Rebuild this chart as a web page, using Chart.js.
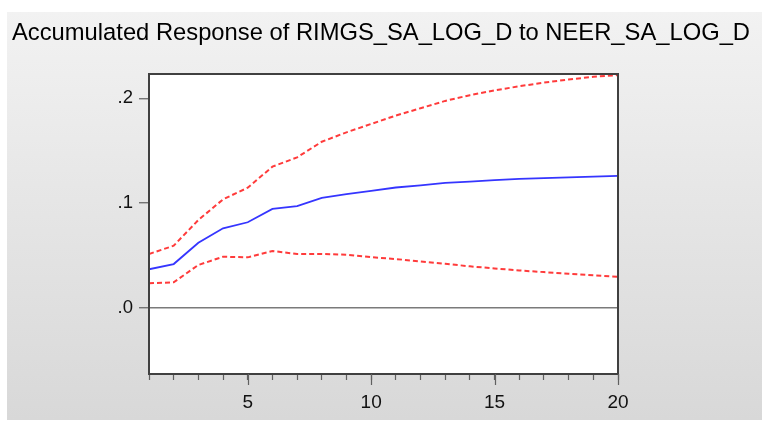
<!DOCTYPE html>
<html>
<head>
<meta charset="utf-8">
<script src="https://cdn.jsdelivr.net/npm/chart.js@4.4.1/dist/chart.umd.min.js"></script>
<style>
    html, body { margin: 0; padding: 0; background: #ffffff; }
    canvas { display: block; }
</style>
</head>
<body>
<canvas id="irf" width="762" height="421"></canvas>
<script>
// Accumulated impulse response (EViews style) with +/- 2 S.E. bands
const chartTitle = 'Accumulated Response of RIMGS_SA_LOG_D to NEER_SA_LOG_D';
const periods = [1, 2, 3, 4, 5, 6, 7, 8, 9, 10, 11, 12, 13, 14, 15, 16, 17, 18, 19, 20];
const response = [0.0367, 0.0417, 0.062, 0.0758, 0.0816, 0.0943, 0.0971, 0.1048, 0.1085, 0.1115,
    0.1148, 0.1168, 0.1192, 0.1205, 0.1218, 0.1230, 0.1238, 0.1245, 0.1252, 0.126];
const upperBand = [0.0513, 0.0592, 0.0838, 0.1035, 0.1146, 0.1347, 0.1436, 0.1585, 0.1675, 0.1755,
    0.1835, 0.1905, 0.1975, 0.2030, 0.2075, 0.2115, 0.2150, 0.2180, 0.2205, 0.2222];
const lowerBand = [0.0233, 0.0243, 0.0408, 0.0487, 0.0481, 0.0542, 0.0513, 0.0513, 0.0506, 0.0483,
    0.0465, 0.0442, 0.0420, 0.0395, 0.0375, 0.0356, 0.0340, 0.0325, 0.0310, 0.0296];
const yTickValues = [0, 0.1, 0.2];
const xLabelValues = [5, 10, 15, 20];

function toPoints(values) {
    return values.map((v, i) => ({ x: periods[i], y: v }));
}

function formatYTick(value) {
    return value.toFixed(1).replace(/^0/, '');
}

// gray gradient panel, white plot area and title
const framePlugin = {
    id: 'frame',
    beforeDraw(chart) {
        const ctx = chart.ctx;
        const area = chart.chartArea;
        ctx.save();
        const grad = ctx.createLinearGradient(0, 12, 0, 420);
        grad.addColorStop(0, '#f2f2f2');
        grad.addColorStop(1, '#d8d8d8');
        ctx.fillStyle = grad;
        ctx.fillRect(7, 12, chart.width - 7, 408);
        ctx.fillStyle = '#ffffff';
        ctx.fillRect(area.left, area.top, area.right - area.left, area.bottom - area.top);

        // title, squeezed to the narrow look of the original
        ctx.font = '24.5px "Liberation Sans Narrow", "Liberation Sans", Arial, sans-serif';
        ctx.fillStyle = '#000000';
        ctx.textBaseline = 'alphabetic';
        const w = ctx.measureText(chartTitle).width;
        const targetW = 738;
        ctx.translate(12, 40);
        ctx.scale(targetW / w, 1);
        ctx.fillText(chartTitle, 0, 0);
        ctx.restore();
    },
    afterDraw(chart) {
        const ctx = chart.ctx;
        const area = chart.chartArea;
        const xScale = chart.scales.x;
        ctx.save();
        ctx.strokeStyle = '#404040';
        ctx.lineWidth = 2;
        ctx.strokeRect(area.left, area.top, area.right - area.left, area.bottom - area.top);
        // longer marks under the labelled periods
        ctx.strokeStyle = '#606060';
        ctx.lineWidth = 1.2;
        xLabelValues.forEach((v) => {
            const px = Math.round(xScale.getPixelForValue(v)) + 0.5;
            ctx.beginPath();
            ctx.moveTo(px, area.bottom);
            ctx.lineTo(px, area.bottom + 11);
            ctx.stroke();
        });
        ctx.restore();
    }
};

const ctx = document.getElementById('irf');
new Chart(ctx, {
    type: 'line',
    data: {
        datasets: [
            {
                label: 'Upper',
                data: toPoints(upperBand),
                borderColor: '#ff3b3b',
                borderWidth: 2,
                borderDash: [5, 3],
                pointRadius: 0,
                tension: 0
            },
            {
                label: 'Response',
                data: toPoints(response),
                borderColor: '#3535ff',
                borderWidth: 1.8,
                pointRadius: 0,
                tension: 0
            },
            {
                label: 'Lower',
                data: toPoints(lowerBand),
                borderColor: '#ff3b3b',
                borderWidth: 2,
                borderDash: [5, 3],
                pointRadius: 0,
                tension: 0
            }
        ]
    },
    options: {
        responsive: false,
        devicePixelRatio: 1,
        animation: false,
        layout: {
            padding: { left: 0, top: 74, right: 144, bottom: 0 }
        },
        scales: {
            x: {
                type: 'linear',
                min: 1,
                max: 20,
                border: { display: false },
                afterFit(scale) { scale.height = 47; },
                afterBuildTicks(scale) {
                    scale.ticks = periods.map((v) => ({ value: v }));
                },
                grid: {
                    drawOnChartArea: false,
                    drawTicks: true,
                    tickLength: 6,
                    tickColor: '#606060',
                    tickWidth: 1.2
                },
                ticks: {
                    autoSkip: false,
                    maxRotation: 0,
                    padding: 11,
                    color: '#111111',
                    font: { family: '"Liberation Sans", Arial, sans-serif', size: 19 },
                    callback: (value) => (xLabelValues.includes(value) ? String(value) : '')
                }
            },
            y: {
                type: 'linear',
                min: -0.0633,
                max: 0.2232,
                border: { display: false },
                afterFit(scale) { scale.width = 149; },
                afterBuildTicks(scale) {
                    scale.ticks = yTickValues.map((v) => ({ value: v }));
                },
                grid: {
                    drawTicks: true,
                    tickLength: 10,
                    tickColor: '#606060',
                    tickWidth: 1.2,
                    lineWidth: 1.5,
                    color: (c) => (c.tick && c.tick.value === 0 ? '#7a7a7a' : 'rgba(0,0,0,0)')
                },
                ticks: {
                    padding: 6,
                    color: '#111111',
                    font: { family: '"Liberation Sans", Arial, sans-serif', size: 18.5 },
                    callback: (value) => formatYTick(value)
                }
            }
        },
        plugins: {
            legend: { display: false },
            title: { display: false },
            tooltip: { enabled: false }
        }
    },
    plugins: [framePlugin]
});
</script>
</body>
</html>
